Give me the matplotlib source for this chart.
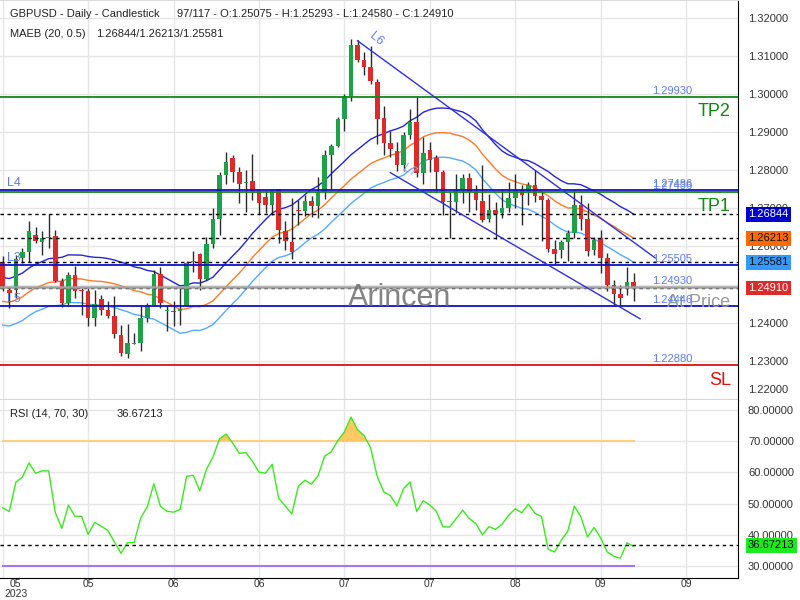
import numpy as np
import pandas as pd
import matplotlib
matplotlib.use("Agg")
import matplotlib.pyplot as plt
from matplotlib import transforms

plt.rcParams["font.family"] = ["Liberation Sans", "DejaVu Sans"]

# GBPUSD daily candles (May - Sep 2023)
opens = [1.2559, 1.2486, 1.2486, 1.2569, 1.2585, 1.2629, 1.2612, 1.2621, 1.2627, 1.2509,
         1.2452, 1.2525, 1.2486, 1.2482, 1.2413, 1.2462, 1.2433, 1.2418, 1.2369, 1.2317,
         1.2345, 1.2347, 1.2412, 1.2446, 1.2527, 1.2430, 1.2432, 1.2431, 1.2445, 1.2559,
         1.2580, 1.2515, 1.2606, 1.2671, 1.2787, 1.2831, 1.2795, 1.2767, 1.2771, 1.2748,
         1.2729, 1.2710, 1.2750, 1.2641, 1.2613, 1.2696, 1.2693, 1.2719, 1.2706, 1.2743,
         1.2839, 1.2865, 1.2935, 1.2996, 1.3128, 1.3089, 1.3072, 1.3033, 1.2938, 1.2872,
         1.2851, 1.2813, 1.2893, 1.2926, 1.2794, 1.2854, 1.2833, 1.2796, 1.2719, 1.2717,
         1.2748, 1.2781, 1.2744, 1.2719, 1.2672, 1.2696, 1.2687, 1.2700, 1.2728, 1.2748,
         1.2744, 1.2761, 1.2732, 1.2722, 1.2594, 1.2591, 1.2611, 1.2635, 1.2710, 1.2671,
         1.2591, 1.2621, 1.2571, 1.2500, 1.2476, 1.2493, 1.25075]
highs = [1.2574, 1.2495, 1.2578, 1.2597, 1.2667, 1.2652, 1.2641, 1.2684, 1.2642, 1.2517,
         1.2534, 1.2550, 1.2491, 1.2491, 1.2486, 1.2473, 1.2456, 1.2469, 1.2395, 1.2397,
         1.2373, 1.2446, 1.2452, 1.2539, 1.2547, 1.2447, 1.2458, 1.2495, 1.2562, 1.2589,
         1.2582, 1.2626, 1.2700, 1.2796, 1.2848, 1.2839, 1.2809, 1.2802, 1.2844, 1.2748,
         1.2748, 1.2752, 1.2752, 1.2667, 1.2728, 1.2722, 1.2734, 1.2732, 1.2783, 1.2852,
         1.2870, 1.2939, 1.3000, 1.3144, 1.3142, 1.3111, 1.3125, 1.3040, 1.2968, 1.2902,
         1.2874, 1.2900, 1.2961, 1.2996, 1.2887, 1.2874, 1.2839, 1.2800, 1.2744, 1.2791,
         1.2791, 1.2792, 1.2761, 1.2815, 1.2739, 1.2717, 1.2752, 1.2770, 1.2791, 1.2761,
         1.2770, 1.2800, 1.2743, 1.2728, 1.2617, 1.2617, 1.2643, 1.2748, 1.2735, 1.2713,
         1.2626, 1.2643, 1.2582, 1.2513, 1.2500, 1.2547, 1.25293]
lows = [1.2482, 1.2439, 1.2465, 1.2556, 1.2560, 1.2608, 1.2578, 1.2595, 1.2508, 1.2442,
        1.2447, 1.2465, 1.2421, 1.2392, 1.2392, 1.2421, 1.2412, 1.2360, 1.2312, 1.2308,
        1.2343, 1.2327, 1.2401, 1.2445, 1.2439, 1.2378, 1.2391, 1.2395, 1.2443, 1.2534,
        1.2487, 1.2513, 1.2597, 1.2630, 1.2765, 1.2770, 1.2713, 1.2691, 1.2723, 1.2684,
        1.2687, 1.2683, 1.2608, 1.2591, 1.2568, 1.2656, 1.2681, 1.2678, 1.2674, 1.2724,
        1.2748, 1.2861, 1.2902, 1.2983, 1.3083, 1.3050, 1.3027, 1.2870, 1.2839, 1.2835,
        1.2798, 1.2798, 1.2883, 1.2783, 1.2764, 1.2796, 1.2744, 1.2682, 1.2622, 1.2687,
        1.2713, 1.2690, 1.2696, 1.2665, 1.2665, 1.2619, 1.2676, 1.2691, 1.2700, 1.2656,
        1.2709, 1.2717, 1.2615, 1.2585, 1.2553, 1.2569, 1.2562, 1.2621, 1.2643, 1.2575,
        1.2578, 1.2530, 1.2482, 1.2447, 1.2447, 1.2474, 1.24580]
closes = [1.2489, 1.2478, 1.2567, 1.2585, 1.2640, 1.2614, 1.2623, 1.2623, 1.2510, 1.2452,
          1.2525, 1.2484, 1.2484, 1.2413, 1.2449, 1.2434, 1.2418, 1.2371, 1.2320, 1.2347,
          1.2347, 1.2412, 1.2446, 1.2527, 1.2451, 1.2432, 1.2429, 1.2437, 1.2558, 1.2562,
          1.2515, 1.2606, 1.2671, 1.2787, 1.2822, 1.2796, 1.2765, 1.2769, 1.2745, 1.2713,
          1.2710, 1.2748, 1.2643, 1.2615, 1.2585, 1.2693, 1.2719, 1.2706, 1.2743, 1.2841,
          1.2865, 1.2935, 1.2996, 1.3128, 1.3090, 1.3072, 1.3034, 1.2935, 1.2872, 1.2857,
          1.2813, 1.2893, 1.2926, 1.2794, 1.2846, 1.2826, 1.2796, 1.2717, 1.2716, 1.2748,
          1.2781, 1.2744, 1.2722, 1.2669, 1.2696, 1.2684, 1.2700, 1.2728, 1.2748, 1.2735,
          1.2761, 1.2732, 1.2722, 1.2594, 1.2581, 1.2611, 1.2635, 1.2710, 1.2671, 1.2588,
          1.2617, 1.2571, 1.2500, 1.2476, 1.2466, 1.2507, 1.24910]

# closes before the first visible bar, read back from the MA(20) line
prior_closes = [1.2525, 1.2440, 1.2426, 1.2380, 1.2408, 1.2488, 1.2472, 1.2477, 1.2412, 1.2399,
                1.2490, 1.2492, 1.2483, 1.2493, 1.2446, 1.2470, 1.2448, 1.2430, 1.2451]

first_day = "2023-05-01"
total_slots = 117

maeb_last = [1.26844, 1.26213, 1.25581]
rsi_last = 36.67213
ohlc_text = "97/117 - O:1.25075 - H:1.25293 - L:1.24580 - C:1.24910"

level_prices = [1.29930, 1.27486, 1.27436, 1.25505, 1.24930, 1.24446, 1.22880]
level_names = ["TP2", "L4", "TP1", "L3", "At Price", "L5", "SL"]

# trend lines (bar index, price)
l6_x = [54.0, 99.3]
l6_y = [1.3140, 1.2570]
l7_x = [59.0, 97.0]
l7_y = [1.27937, 1.24102]

W, H = 800, 600
fig = plt.figure(figsize=(W / 100, H / 100), dpi=100)
ax = fig.add_axes([0, 200 / H, 738 / W, 400 / H])
ax_rsi = fig.add_axes([0, 22 / H, 738 / W, 178 / H])


def px(dx, dy):
    # pixel offset, dy positive downwards
    return transforms.ScaledTranslation(dx / 100, -dy / 100, fig.dpi_scale_trans)


x = np.arange(len(closes))
o = np.array(opens)
h = np.array(highs)
l = np.array(lows)
c = np.array(closes)

# ---- main panel
ax.set_xlim(-0.41, 111.9)
ax.set_ylim(1.21971, 1.32470)
ax.set_axisbelow(True)
ax.grid(True, color="#e6e6e6", lw=1)
ax.spines["left"].set_visible(False)
ax.spines["top"].set_color("#dddddd")
ax.spines["right"].set_color("black")
ax.spines["bottom"].set_color("black")

tick_idx = np.arange(0, total_slots, 13)
ax.set_xticks(tick_idx)
ax.tick_params(axis="x", labelbottom=False, length=0)
ax.yaxis.tick_right()
ax.set_yticks(np.arange(1.22, 1.3201, 0.01))
ax.yaxis.set_major_formatter(matplotlib.ticker.FormatStrFormatter("%.5f"))
ax.tick_params(axis="y", length=0, pad=7.2, labelsize=8, labelcolor="#333333")
lab = ax.get_yticklabels()[0]
lab.set_transform(lab.get_transform() + px(0, -10))

# MAEB (20, 0.5)
all_c = np.array(prior_closes + closes)
mid = pd.Series(all_c).rolling(20).mean().to_numpy()[len(prior_closes):]
ax.plot(x, mid * 1.005, color="#2525d0", lw=1, zorder=2.6)
ax.plot(x, mid, color="#ff7a26", lw=1, zorder=2.6)
ax.plot(x, mid * 0.995, color="#55aaff", lw=1, zorder=2.6)

# candles
up = c >= o
body_col = np.where(up, "#1fa04a", "#dd2a2a")
ax.vlines(x, l, h, color="#2b2b2b", lw=1, zorder=3)
body = np.maximum(np.abs(c - o), 0.00028)
ax.bar(x, body, bottom=np.minimum(o, c), width=0.7, color=body_col, lw=0, zorder=4)

# current band values and close, dashed
for v in maeb_last + [closes[-1]]:
    ax.axhline(v, color="black", lw=1, ls=(0, (2.5, 2.5)), zorder=5)

# levels
bt = transforms.blended_transform_factory(ax.transAxes, ax.transData)
lvl_style = {"TP": "#118811", "L": "#1010cc", "SL": "#dd1111", "At": "#a0a0a0"}
for p, name in zip(level_prices, level_names):
    if name.startswith("TP"):
        key = "TP"
    elif name == "SL":
        key = "SL"
    elif name.startswith("At"):
        key = "At"
    else:
        key = "L"
    col = lvl_style[key]
    ax.axhline(p, color=col, lw=1.3 if key != "At" else 1.8, zorder=6)
    ax.text(652 / 738, p, f"{p:.5f}", transform=bt + px(0, -3), ha="left", va="baseline",
            fontsize=8, color="#5b7df0", zorder=7)
    if key == "L":
        ax.text(7 / 738, p, name, transform=bt + px(0, -4), ha="left", va="baseline",
                fontsize=9, color="#5b7df0", zorder=7)
    elif key == "At":
        ax.text(730 / 738, p, name, transform=bt + px(0, 15), ha="right", va="center",
                fontsize=13, color="#9a9a9a", zorder=7)
    else:
        ax.text(731 / 738, p, name, transform=bt + px(0, 15), ha="right", va="center",
                fontsize=13, color=col, zorder=7)

# trend lines
ax.plot(l6_x, l6_y, color="#3030dd", lw=1, zorder=6)
ax.plot(l7_x, l7_y, color="#3030dd", lw=1, zorder=6)
ax.text(l6_x[0], l6_y[0], "L6", transform=ax.transData + px(10, -2), fontsize=9,
        color="#5b7df0", rotation=-40, ha="left", va="center", zorder=7)
ax.text(l7_x[0], l7_y[0], "L7", transform=ax.transData + px(10, -2), fontsize=9,
        color="#9aa6e0", rotation=-30, ha="left", va="center", zorder=7)

fig.text(400 / W, 1 - 298 / H, "Arincen", fontsize=22, color="#6e6e6e", ha="center", va="center",
         alpha=0.85, zorder=10)

# headers
fig.text(10 / W, 1 - 14 / H, "GBPUSD - Daily - Candlestick", fontsize=8, color="#222222", va="center")
fig.text(177 / W, 1 - 14 / H, ohlc_text, fontsize=8, color="#222222", va="center")
fig.text(10 / W, 1 - 34 / H, "MAEB (20, 0.5)", fontsize=8, color="#222222", va="center")
fig.text(96 / W, 1 - 34 / H, "/".join(f"{v:.5f}" for v in maeb_last), fontsize=8,
         color="#222222", va="center")

# right side value boxes
box_cols = [("#0000cc", "white"), ("#ff6a00", "#111111"), ("#3399ff", "#111111")]
for v, (bg, fg) in zip(maeb_last, box_cols):
    ax.text(748 / 738, v, f"{v:.5f}", transform=bt, ha="left", va="center", fontsize=8, color=fg,
            bbox=dict(boxstyle="square,pad=0.22", fc=bg, ec="none"), clip_on=False, zorder=8)
ax.text(748 / 738, closes[-1], f"{closes[-1]:.5f}", transform=bt, ha="left", va="center", fontsize=8,
        color="white", bbox=dict(boxstyle="square,pad=0.22", fc="#dd2a2a", ec="none"),
        clip_on=False, zorder=8)

# ---- RSI (14, 70, 30)
delta = np.diff(all_c)
gain = np.where(delta > 0, delta, 0.0)
loss = np.where(delta < 0, -delta, 0.0)
n = 14
rsi_full = np.full(len(all_c), np.nan)
ag = gain[:n].mean()
al = loss[:n].mean()
rsi_full[n] = 100 - 100 / (1 + ag / al)
for i in range(n + 1, len(all_c)):
    ag = (ag * (n - 1) + gain[i - 1]) / n
    al = (al * (n - 1) + loss[i - 1]) / n
    rsi_full[i] = 100 - 100 / (1 + ag / al)
rsi = rsi_full[len(prior_closes):]

ax_rsi.set_xlim(ax.get_xlim())
ax_rsi.set_ylim(26.15, 83.2)
ax_rsi.set_axisbelow(True)
ax_rsi.grid(True, color="#e6e6e6", lw=1)
ax_rsi.spines["left"].set_visible(False)
ax_rsi.spines["top"].set_visible(False)
ax_rsi.yaxis.tick_right()
ax_rsi.set_yticks(np.arange(30, 81, 10))
ax_rsi.yaxis.set_major_formatter(matplotlib.ticker.FormatStrFormatter("%.5f"))
ax_rsi.tick_params(axis="y", length=0, pad=7.2, labelsize=8, labelcolor="#333333")

ax_rsi.plot([x[0], x[-1]], [70, 70], color="#ffd080", lw=1.5, zorder=2)
ax_rsi.plot([x[0], x[-1]], [30, 30], color="#a078ff", lw=1.5, zorder=2)
ax_rsi.fill_between(x, rsi, 70, where=rsi > 70, interpolate=True, color="#ffc861", lw=0, zorder=2)
ax_rsi.plot(x, rsi, color="#3be81e", lw=1, zorder=3)
ax_rsi.axhline(rsi_last, color="black", lw=1, ls=(0, (2.5, 2.5)), zorder=4)

bt2 = transforms.blended_transform_factory(ax_rsi.transAxes, ax_rsi.transData)
ax_rsi.text(748 / 738, rsi_last, f"{rsi_last:.5f}", transform=bt2, ha="left", va="center", fontsize=8,
            color="#111111", bbox=dict(boxstyle="square,pad=0.22", fc="#1ee81e", ec="none"),
            clip_on=False, zorder=8)
fig.text(10 / W, 1 - 414 / H, "RSI (14, 70, 30)", fontsize=8, color="#222222", va="center")
fig.text(117 / W, 1 - 414 / H, f"{rsi_last:.5f}", fontsize=8, color="#222222", va="center")

dates = pd.bdate_range(first_day, periods=total_slots)
labels = [d.strftime("%m") for d in dates[tick_idx]]
labels[0] = labels[0] + "\n" + dates[0].strftime("%Y")
ax_rsi.set_xticks(tick_idx)
ax_rsi.set_xticklabels(labels, fontsize=7.5, color="#333333", linespacing=0.9)
ax_rsi.tick_params(axis="x", length=0, pad=1)
first = ax_rsi.get_xticklabels()[0]
first.set_transform(first.get_transform() + px(13, 0))

fig.savefig("out.png", dpi=100)
